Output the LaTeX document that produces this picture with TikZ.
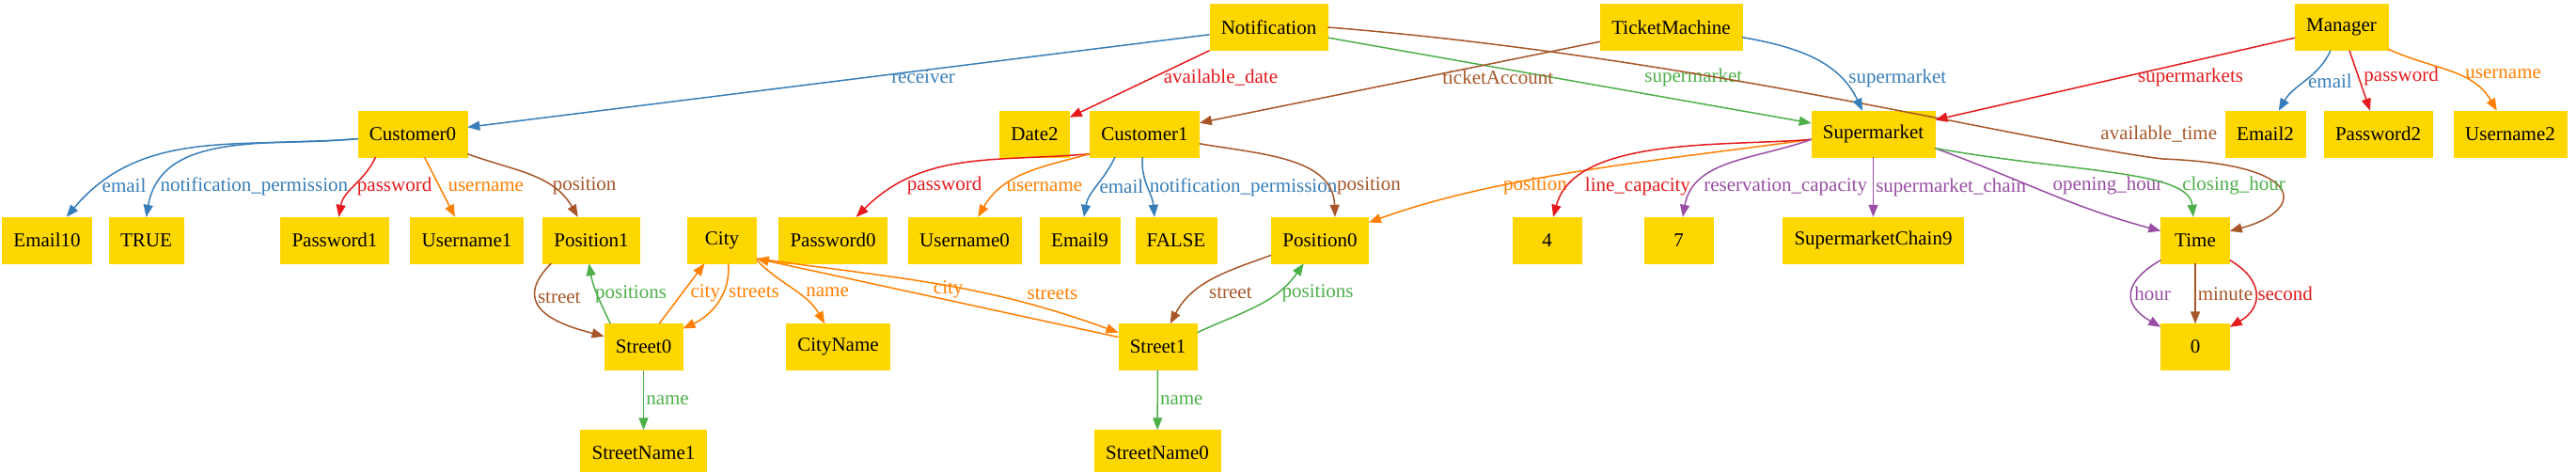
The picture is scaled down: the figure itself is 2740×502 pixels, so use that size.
\documentclass[tikz,border=0pt]{standalone}
\usepackage{fontspec}
\setmainfont{Liberation Serif}
\usepackage{tikz}
\usetikzlibrary{arrows.meta}
\definecolor{gold}{HTML}{FFD700}
\definecolor{gvblue}{HTML}{377EB8}
\definecolor{gvred}{HTML}{E41A1C}
\definecolor{gvgreen}{HTML}{4DAF4A}
\definecolor{gvpurple}{HTML}{984EA3}
\definecolor{gvorange}{HTML}{FF7F00}
\definecolor{gvbrown}{HTML}{A65628}
\newcommand{\gvfont}{\fontsize{21}{25}\selectfont}
\tikzset{
  obj/.style={rectangle,draw=gold,fill=gold,inner xsep=12pt,inner ysep=0pt,minimum width=73pt,minimum height=49pt,font=\gvfont},
  rel/.style={-{Triangle[length=13pt,width=10pt]},line width=1.5pt,color=#1},
  lbl/.style={font=\gvfont,anchor=west,inner sep=2pt},
}

\begin{document}
\begin{tikzpicture}[x=1pt,y=1pt]
  \useasboundingbox (0,0) rectangle (2740,-502);
  \node[obj] (ntf) at (1349.5,-29) {Notification};
  \node[obj] (tm) at (1777.5,-29) {TicketMachine};
  \node[obj] (mgr) at (2490.5,-29) {Manager};
  \node[obj] (c0) at (439,-142.5) {Customer0};
  \node[obj] (date2) at (1100.5,-142.5) {Date2};
  \node[obj] (c1) at (1217.5,-142.5) {Customer1};
  \node[obj] (sm) at (1992.5,-142.5) {Supermarket};
  \node[obj] (em2) at (2409.5,-142.5) {Email2};
  \node[obj] (pw2) at (2529.5,-142.5) {Password2};
  \node[obj] (un2) at (2670,-142.5) {Username2};
  \node[obj] (em10) at (50,-255.5) {Email10};
  \node[obj] (ttrue) at (155.5,-255.5) {TRUE};
  \node[obj] (pw1) at (356,-255.5) {Password1};
  \node[obj] (un1) at (496.5,-255.5) {Username1};
  \node[obj] (pos1) at (629,-255.5) {Position1};
  \node[obj] (city) at (768,-255.5) {City};
  \node[obj] (pw0) at (886,-255.5) {Password0};
  \node[obj] (un0) at (1026,-255.5) {Username0};
  \node[obj] (em9) at (1148.5,-255.5) {Email9};
  \node[obj] (tfalse) at (1251,-255.5) {FALSE};
  \node[obj] (pos0) at (1404,-255.5) {Position0};
  \node[obj] (four) at (1645.5,-255.5) {4};
  \node[obj] (seven) at (1785.5,-255.5) {7};
  \node[obj] (smc) at (1992.5,-255.5) {SupermarketChain9};
  \node[obj] (time) at (2335,-255.5) {Time};
  \node[obj] (st0) at (684.5,-369) {Street0};
  \node[obj] (cname) at (891.5,-369) {CityName};
  \node[obj] (st1) at (1231.5,-369) {Street1};
  \node[obj] (zero) at (2335,-369) {0};
  \node[obj] (sn1) at (684.5,-482) {StreetName1};
  \node[obj] (sn0) at (1231,-482) {StreetName0};
  \draw[rel=gvblue] (ntf) -- node[lbl,pos=.46,xshift=22pt]{receiver} (c0);
  \draw[rel=gvred] (ntf.south west) -- node[lbl,pos=.4,xshift=8pt]{available\_date} (date2);
  \draw[rel=gvgreen] (ntf) -- node[lbl,pos=.65,yshift=17pt]{supermarket} (sm);
  \draw[rel=gvbrown] (ntf.east) .. controls (1800,-60) and (2150,-150) .. (2300,-169) node[lbl,pos=.87,yshift=16pt]{available\_time} .. controls (2460,-175) and (2450,-225) .. (time);
  \draw[rel=gvbrown] (tm) -- node[lbl,pos=.44,xshift=17pt]{ticketAccount} (c1);
  \draw[rel=gvblue] (tm.-8) to[out=-10,in=115] node[lbl,pos=.74,xshift=6pt]{supermarket} (sm);
  \draw[rel=gvred] (mgr) -- node[lbl,pos=.48,xshift=14pt]{supermarkets} (sm);
  \draw[rel=gvblue] (mgr) to[out=-115,in=60] node[lbl,pos=.5]{email} (em2);
  \draw[rel=gvred] (mgr) -- node[lbl,pos=.44,xshift=3pt]{password} (pw2);
  \draw[rel=gvorange] (mgr) to[out=-25,in=120] node[lbl,pos=.55,xshift=8pt]{username} (un2);
  \draw[rel=gvblue] (c0) to[out=185,in=50] node[lbl,pos=.86]{email} (em10);
  \draw[rel=gvblue] (c0) to[out=185,in=80] node[lbl,pos=.86]{notification\_permission} (ttrue.north);
  \draw[rel=gvred] (c0.-148) to[out=-115,in=80] node[lbl,pos=.5]{password} (pw1);
  \draw[rel=gvorange] (c0) -- node[lbl,pos=.5,xshift=6pt]{username} (un1);
  \draw[rel=gvbrown] (c0) to[out=-20,in=120] node[lbl,pos=.68]{position} (pos1);
  \draw[rel=gvred] (c1.-160) to[out=185,in=45] node[lbl,pos=.8,xshift=8pt]{password} (pw0);
  \draw[rel=gvorange] (c1.-160) to[out=195,in=60] node[lbl,pos=.7]{username} (un0);
  \draw[rel=gvblue] (c1.-142) to[out=-115,in=80] node[lbl,pos=.5]{email} (em9);
  \draw[rel=gvblue] (c1) to[out=-95,in=95] node[lbl,pos=.5]{notification\_permission} (tfalse.133);
  \draw[rel=gvbrown] (c1) to[out=-10,in=92] node[lbl,pos=.79,xshift=10pt]{position} (pos0.57);
  \draw[rel=gvorange] (sm.185) to[out=188,in=20,looseness=.8] node[lbl,pos=.69]{position} (pos0);
  \draw[rel=gvred] (sm.185) to[out=185,in=75,looseness=.8] node[lbl,pos=.85,xshift=12pt]{line\_capacity} (four);
  \draw[rel=gvpurple] (sm.185) to[out=200,in=80] node[lbl,pos=.78,xshift=5pt]{reservation\_capacity} (seven);
  \draw[rel=gvpurple] (sm) -- node[lbl,pos=.5]{supermarket\_chain} (smc);
  \draw[rel=gvpurple] (sm.-13) to[out=-20,in=165] node[lbl,pos=.42,xshift=21pt]{opening\_hour} (time);
  \draw[rel=gvgreen] (sm.-13) to[out=-10,in=95,out distance=150pt,in distance=50pt] node[lbl,pos=.7,xshift=19pt]{closing\_hour} (time);
  \draw[rel=gvbrown] (pos1.-150) to[out=-135,in=165,out distance=70pt,in distance=40pt] node[lbl,pos=.3]{street} (st0);
  \draw[rel=gvgreen] (st0.145) to[out=115,in=-80] node[lbl,pos=.5,xshift=-5pt]{positions} (pos1.-96);
  \draw[rel=gvorange] (st0.56) -- node[lbl,pos=.51,xshift=6pt]{city} (city);
  \draw[rel=gvorange] (city.-75) to[out=-85,in=25] node[lbl,pos=.35,xshift=3pt]{streets} (st0);
  \draw[rel=gvorange] (city.-30) to[out=-45,in=120] node[lbl,pos=.55,xshift=7pt]{name} (cname);
  \draw[rel=gvorange] (st1.166) -- node[lbl,pos=.47,anchor=south]{city} (city.-28);
  \draw[rel=gvorange] (city.-28) to[out=-8,in=160] node[lbl,pos=.75,yshift=10pt]{streets} (st1);
  \draw[rel=gvbrown] (pos0.197) to[out=200,in=62] node[lbl,pos=.7,xshift=14pt]{street} (st1);
  \draw[rel=gvgreen] (st1.20) to[out=25,in=-125] node[lbl,pos=.69,xshift=4pt]{positions} (pos0);
  \draw[rel=gvgreen] (st0) -- node[lbl,pos=.5]{name} (sn1);
  \draw[rel=gvgreen] (st1) -- node[lbl,pos=.5]{name} (sn0);
  \draw[rel=gvpurple] (time) to[out=-150,in=150,looseness=1.7] node[lbl,pos=.5]{hour} (zero);
  \draw[rel=gvbrown] (time) -- node[lbl,pos=.5]{minute} (zero);
  \draw[rel=gvred] (time) to[out=-30,in=30,looseness=1.5] node[lbl,pos=.5]{second} (zero);
\end{tikzpicture}
\end{document}
